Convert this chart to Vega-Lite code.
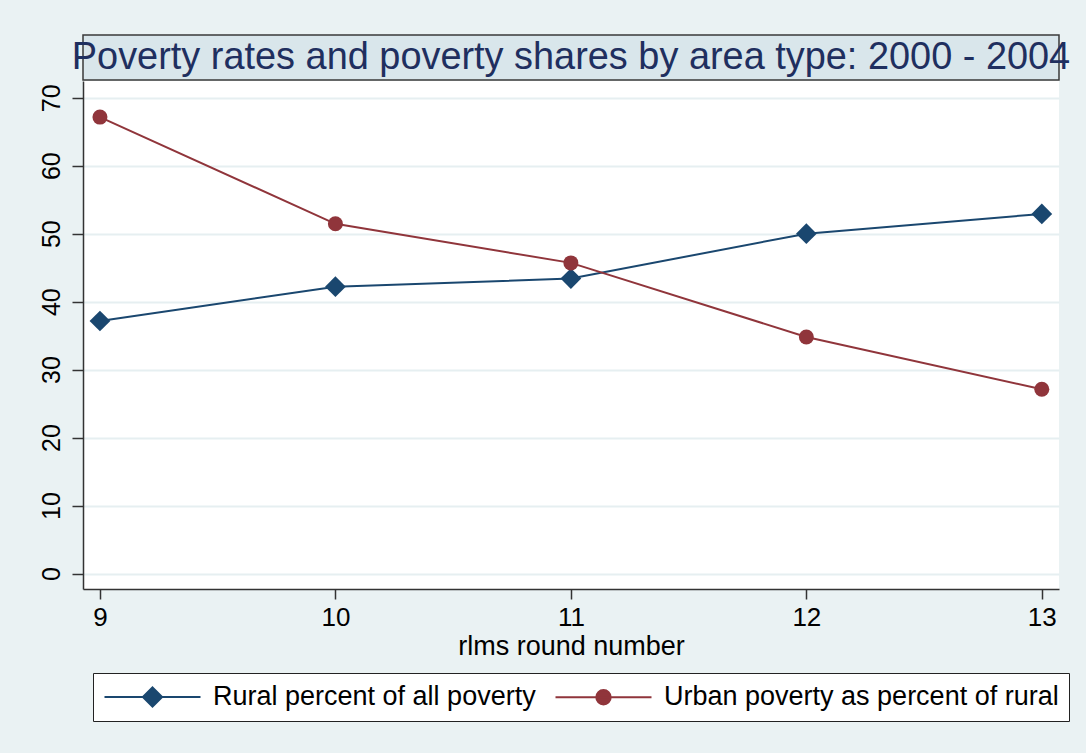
{
  "$schema": "https://vega.github.io/schema/vega-lite/v6.json",
  "autosize": {"type": "none"},
  "padding": {"left": 83, "top": 35, "right": 1003, "bottom": 718},
  "background": "#EAF2F3",
  "config": {
    "font": "Liberation Sans",
    "concat": {"spacing": 0}
  },
  "spacing": 0,
  "resolve": {"scale": {"x": "independent", "y": "independent", "color": "independent"}},
  "vconcat": [
    {
      "width": 976,
      "height": 45,
      "view": {"fill": "#D9E6EB", "stroke": "#3a3a3a", "strokeWidth": 1.5},
      "data": {"values": [{"title": "Poverty rates and poverty shares by area type: 2000 - 2004"}]},
      "mark": {"type": "text", "font": "Liberation Sans", "fontSize": 37.9, "color": "#1f2f5f", "baseline": "middle", "align": "center"},
      "encoding": {
        "text": {"field": "title", "type": "nominal"},
        "x": {"datum": 0, "type": "quantitative", "scale": {"domain": [-1, 1]}, "axis": null},
        "y": {"datum": 0, "type": "quantitative", "scale": {"domain": [-1, 1]}, "axis": null}
      }
    },
    {
      "width": 976,
      "height": 508,
      "view": {"fill": "white", "stroke": null},
      "data": {
        "values": [
          {"round": 9, "series": "Rural percent of all poverty", "value": 37.15},
          {"round": 10, "series": "Rural percent of all poverty", "value": 42.2},
          {"round": 11, "series": "Rural percent of all poverty", "value": 43.4},
          {"round": 12, "series": "Rural percent of all poverty", "value": 50.0},
          {"round": 13, "series": "Rural percent of all poverty", "value": 52.9},
          {"round": 9, "series": "Urban poverty as percent of rural", "value": 67.15},
          {"round": 10, "series": "Urban poverty as percent of rural", "value": 51.45},
          {"round": 11, "series": "Urban poverty as percent of rural", "value": 45.7},
          {"round": 12, "series": "Urban poverty as percent of rural", "value": 34.8},
          {"round": 13, "series": "Urban poverty as percent of rural", "value": 27.1}
        ]
      },
      "encoding": {
        "x": {
          "field": "round", "type": "quantitative",
          "scale": {"domain": [8.928, 13.073], "nice": false, "zero": false},
          "axis": {
            "values": [9, 10, 11, 12, 13], "format": "d", "grid": false,
            "tickSize": 10, "tickColor": "#333", "tickWidth": 1.5,
            "domainColor": "#333", "domainWidth": 1.5,
            "labelFontSize": 26, "labelFont": "Liberation Sans", "labelColor": "black", "labelPadding": 5,
            "title": "rlms round number", "titleFontSize": 27, "titleFont": "Liberation Sans",
            "titleFontWeight": "normal", "titleColor": "black", "titlePadding": 3
          }
        },
        "y": {
          "field": "value", "type": "quantitative",
          "scale": {"domain": [-2.28, 72.46], "nice": false, "zero": false},
          "axis": {
            "values": [0, 10, 20, 30, 40, 50, 60, 70], "grid": true,
            "gridColor": "#E6EFF1", "gridWidth": 2,
            "tickSize": 11, "tickColor": "#333", "tickWidth": 1.5,
            "domainColor": "#333", "domainWidth": 1.5,
            "labelAngle": -90, "labelFontSize": 25, "labelFont": "Liberation Sans", "labelColor": "black",
            "labelPadding": 8, "title": null
          }
        },
        "color": {
          "field": "series", "type": "nominal",
          "scale": {"domain": ["Rural percent of all poverty", "Urban poverty as percent of rural"], "range": ["#1a476f", "#90353b"]},
          "legend": {
            "orient": "none", "legendX": 10, "legendY": 592,
            "direction": "horizontal", "title": null,
            "fillColor": "white", "strokeColor": "#222",
            "padding": 10,
            "labelFontSize": 27, "labelFont": "Liberation Sans", "labelColor": "black", "labelLimit": 1000,
            "symbolSize": 576, "labelOffset": 83, "columnPadding": 15, "symbolStrokeWidth": 2,
            "encode": {
              "symbols": {
                "update": {
                  "shape": {"signal": "datum.value == 'Rural percent of all poverty' ? 'M-1,0H7M3,-0.8L3.8,0L3,0.8L2.2,0Z' : 'M-1,0H7M3.6,0A0.6,0.6,0,1,1,2.4,0A0.6,0.6,0,1,1,3.6,0Z'"},
                  "fill": {"scale": "color", "field": "value"},
                  "stroke": {"scale": "color", "field": "value"},
                  "strokeWidth": {"value": 2},
                  "opacity": {"value": 1}
                }
              }
            }
          }
        }
      },
      "layer": [
        {"mark": {"type": "line", "strokeWidth": 2}},
        {
          "mark": {"type": "point", "filled": true, "opacity": 1},
          "encoding": {
            "shape": {"field": "series", "type": "nominal", "scale": {"range": ["diamond", "circle"]}, "legend": null},
            "size": {"field": "series", "type": "nominal", "scale": {"range": [430, 225]}, "legend": null}
          }
        }
      ]
    }
  ]
}
